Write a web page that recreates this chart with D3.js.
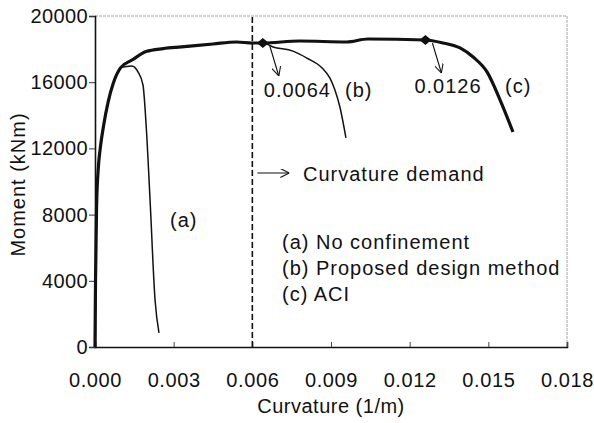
<!DOCTYPE html>
<html>
<head>
<meta charset="utf-8">
<script src="https://cdn.jsdelivr.net/npm/d3@7"></script>
<style>
  body { margin: 0; background: #fff; }
  svg text { font-family: "Liberation Sans", Arial, sans-serif; fill: #111; }
</style>
</head>
<body>
<div class="chart"></div>
<script>
// curvature (1/m) and moment (kNm)
var riseCurv   = [0, 0.00002, 0.00006, 0.00013, 0.0002, 0.00033, 0.0005, 0.0007, 0.00098];
var riseMoment = [0, 4000, 8500, 10900, 12000, 13400, 14800, 15950, 16880];

var aCurv   = [0.00141, 0.00164, 0.00183, 0.00195, 0.0021, 0.00229, 0.00244];
var aMoment = [16980, 16620, 15830, 13410, 8880, 2840, 850];

var plateauCurv   = [0.00141, 0.00195, 0.0026, 0.0033, 0.0045, 0.0054, 0.006, 0.0064];
var plateauMoment = [17340, 17850, 18030, 18130, 18310, 18430, 18370, 18370];

var bCurv   = [0.00679, 0.00755, 0.00808, 0.00866, 0.00896, 0.00915, 0.00934, 0.00957];
var bMoment = [18130, 17880, 17460, 16860, 16250, 15530, 14500, 12630];

var cCurv   = [0.0078, 0.0096, 0.0104, 0.0126, 0.01327, 0.01392, 0.01442, 0.01495, 0.01545, 0.01594];
var cMoment = [18490, 18430, 18610, 18550, 18370, 18070, 17520, 16620, 14920, 12990];

var markCurv   = [0.0064, 0.0126];
var markMoment = [18370, 18550];
var markLabels = ["0.0064", "0.0126"];
var curveTags  = ["(b)", "(c)"];

var demand = 0.006;
var xTicks = [0, 0.003, 0.006, 0.009, 0.012, 0.015, 0.018];
var yTicks = [0, 4000, 8000, 12000, 16000, 20000];
var legend = ["(a) No confinement", "(b) Proposed design method", "(c) ACI"];

function zip(xs, ys) {
    return xs.map(function (x, i) { return [x, ys[i]]; });
}

var rise = zip(riseCurv, riseMoment);
var curveA = rise.concat(zip(aCurv, aMoment));
var toDiamond = rise.concat(zip(plateauCurv, plateauMoment));
var curveB = toDiamond.concat(zip(bCurv, bMoment));
var curveC = toDiamond.concat(zip(cCurv, cMoment));

var margin = {top: 16, right: 27, bottom: 76, left: 95},
    width = 594 - margin.left - margin.right,
    height = 423 - margin.top - margin.bottom;

var svg = d3.select(".chart").append("svg")
    .attr("width", 594)
    .attr("height", 423);

var defs = svg.append("defs");
defs.append("marker")
    .attr("id", "vhead")
    .attr("viewBox", "0 0 10 10")
    .attr("refX", 10).attr("refY", 5)
    .attr("markerWidth", 9).attr("markerHeight", 9)
    .attr("markerUnits", "userSpaceOnUse")
    .attr("orient", "auto")
    .append("path")
    .attr("d", "M0,0 L10,5 L0,10")
    .attr("fill", "none")
    .attr("stroke", "#111")
    .attr("stroke-width", 1.2);

var g = svg.append("g")
    .attr("transform", "translate(" + margin.left + "," + margin.top + ")");

var x = d3.scaleLinear().domain([0, 0.018]).range([0, width]);
var y = d3.scaleLinear().domain([0, 20000]).range([height, 0]);

// faint frame on top and right
g.append("path")
    .attr("d", "M0,0 H" + width + " V" + height)
    .attr("fill", "none")
    .attr("stroke", "#999")
    .attr("stroke-width", 0.9)
    .attr("stroke-dasharray", "3,1");

// x axis, ticks pointing inward
var xAxis = g.append("g")
    .attr("transform", "translate(0," + height + ")")
    .call(d3.axisBottom(x).tickValues(xTicks).tickSize(-5).tickPadding(26)
        .tickFormat(d3.format(".3f")));
xAxis.select(".domain").attr("stroke", "#111").attr("stroke-width", 1.6);
xAxis.selectAll(".tick line").attr("stroke", "#444");
xAxis.selectAll("text")
    .attr("font-size", 20).attr("letter-spacing", 0.6)
    .attr("font-family", "Liberation Sans, Arial, sans-serif").attr("fill", "#111");

// y axis
var yAxis = g.append("g")
    .call(d3.axisLeft(y).tickValues(yTicks).tickSize(6).tickPadding(1)
        .tickFormat(d3.format("d")));
yAxis.select(".domain").attr("stroke", "#111").attr("stroke-width", 1.6);
yAxis.selectAll(".tick line").attr("stroke", "#333");
yAxis.selectAll("text")
    .attr("font-size", 20).attr("letter-spacing", 0.4)
    .attr("font-family", "Liberation Sans, Arial, sans-serif").attr("fill", "#111");

// axis titles
svg.append("text")
    .attr("x", margin.left + width / 2)
    .attr("y", 413)
    .attr("text-anchor", "middle")
    .attr("font-size", 20).attr("letter-spacing", 0.5)
    .text("Curvature (1/m)");

svg.append("text")
    .attr("transform", "translate(25," + (margin.top + height / 2 + 3) + ") rotate(-90)")
    .attr("text-anchor", "middle")
    .attr("font-size", 20).attr("letter-spacing", 1)
    .text("Moment (kNm)");

// curvature demand line
g.append("line")
    .attr("x1", x(demand)).attr("x2", x(demand))
    .attr("y1", y(0)).attr("y2", y(20000))
    .attr("stroke", "#111")
    .attr("stroke-width", 1.6)
    .attr("stroke-dasharray", "6,3");

var line = d3.line()
    .x(function (d) { return x(d[0]); })
    .y(function (d) { return y(d[1]); })
    .curve(d3.curveMonotoneX);

g.append("path").datum(curveA)
    .attr("d", line).attr("fill", "none")
    .attr("stroke", "#111").attr("stroke-width", 1.5);

g.append("path").datum(curveB)
    .attr("d", line).attr("fill", "none")
    .attr("stroke", "#111").attr("stroke-width", 1.5);

g.append("path").datum(curveC)
    .attr("d", line).attr("fill", "none")
    .attr("stroke", "#111").attr("stroke-width", 3.2);

// diamonds where curvature capacity is reached
var marks = zip(markCurv, markMoment);
g.selectAll(".diamond")
    .data(marks)
    .enter().append("path")
    .attr("class", "diamond")
    .attr("d", "M-6,0 L0,-5 L6,0 L0,5 Z")
    .attr("transform", function (d) {
        return "translate(" + x(d[0]) + "," + y(d[1]) + ")";
    })
    .attr("fill", "#111");

// little arrows from the diamonds down to the values
g.selectAll(".callout")
    .data(marks)
    .enter().append("line")
    .attr("class", "callout")
    .attr("x1", function (d) { return x(d[0]) + 7; })
    .attr("y1", function (d) { return y(d[1]) + 3; })
    .attr("x2", function (d) { return x(d[0]) + 16; })
    .attr("y2", function (d) { return y(d[1]) + 33; })
    .attr("stroke", "#111")
    .attr("stroke-width", 1.1)
    .attr("marker-end", "url(#vhead)");

g.selectAll(".valueLabel")
    .data(marks)
    .enter().append("text")
    .attr("class", "valueLabel")
    .attr("x", function (d) { return x(d[0]) - 11 + 12 * (d[0] < 0.01 ? 1 : 0); })
    .attr("y", function (d, i) { return i == 0 ? 81 : 77; })
    .attr("font-size", 20).attr("letter-spacing", 1)
    .text(function (d, i) { return markLabels[i]; });

g.selectAll(".curveTag")
    .data(marks)
    .enter().append("text")
    .attr("class", "curveTag")
    .attr("x", function (d, i) { return i == 0 ? 250 : 410; })
    .attr("y", function (d, i) { return i == 0 ? 81 : 77; })
    .attr("font-size", 20).attr("letter-spacing", 1)
    .text(function (d, i) { return curveTags[i]; });

g.append("text")
    .attr("x", 75).attr("y", 211)
    .attr("font-size", 20).attr("letter-spacing", 1)
    .text("(a)");

// curvature demand note
g.append("line")
    .attr("x1", x(demand) + 5).attr("x2", x(demand) + 37)
    .attr("y1", 157).attr("y2", 157)
    .attr("stroke", "#111").attr("stroke-width", 1.1)
    .attr("marker-end", "url(#vhead)");

g.append("text")
    .attr("x", 208).attr("y", 165)
    .attr("font-size", 20).attr("letter-spacing", 1)
    .text("Curvature demand");

// legend
g.selectAll(".legend")
    .data(legend)
    .enter().append("text")
    .attr("class", "legend")
    .attr("x", 187)
    .attr("y", function (d, i) { return 233 + i * 26; })
    .attr("font-size", 20).attr("letter-spacing", 1)
    .text(function (d) { return d; });
</script>
</body>
</html>
